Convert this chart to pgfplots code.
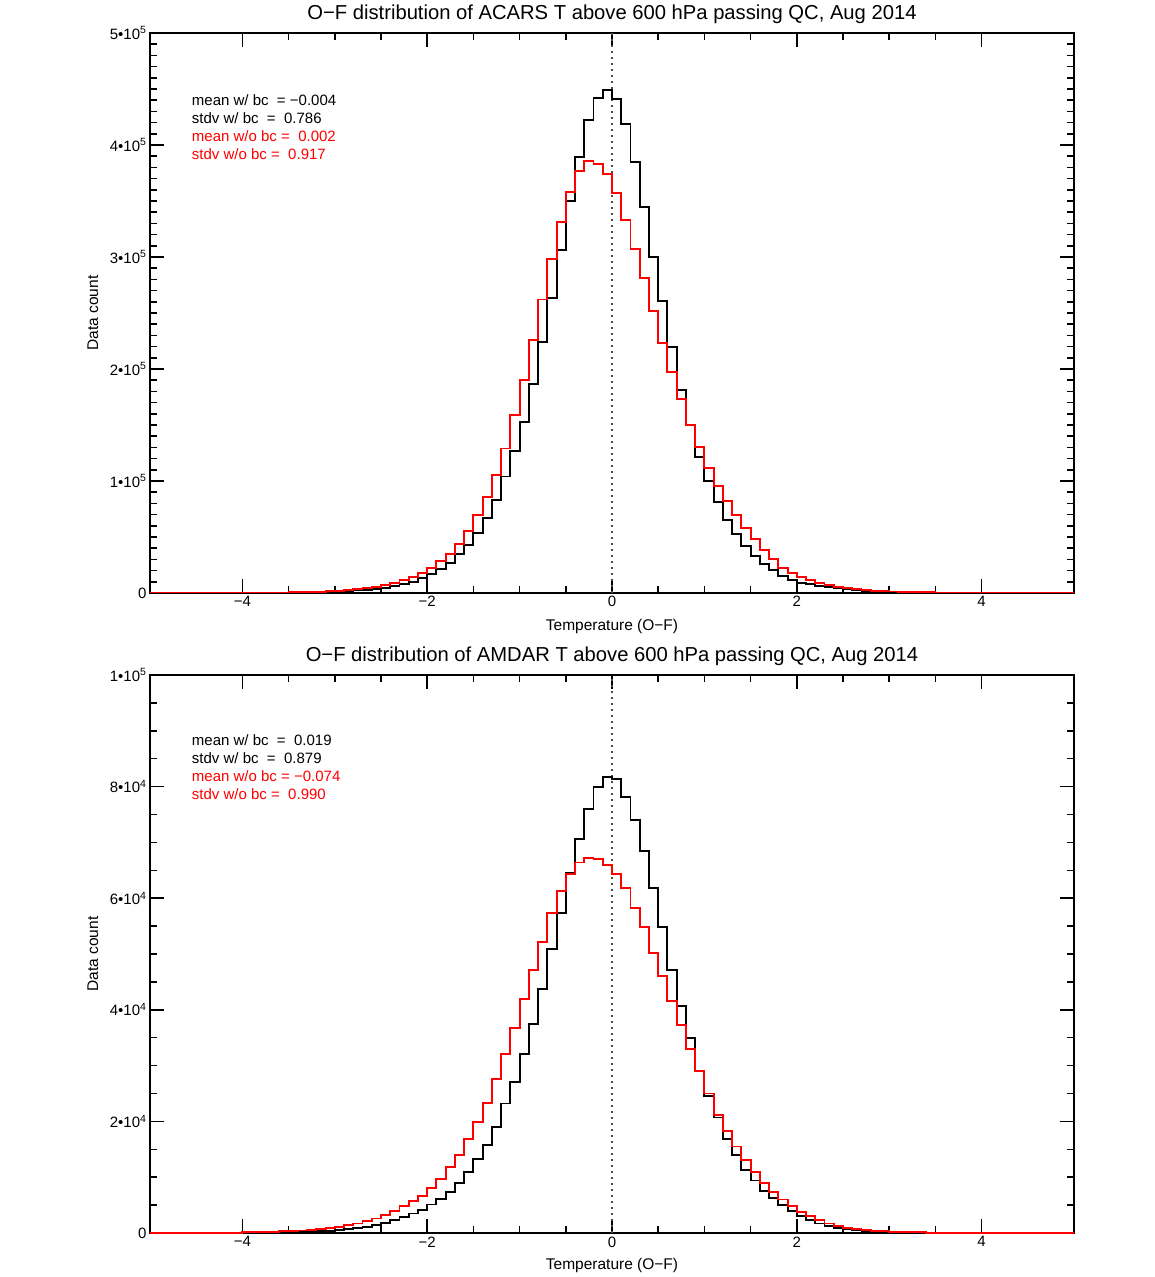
\documentclass[border=0pt]{standalone}
\usepackage{fontspec}
\setmainfont{Liberation Sans}
\usepackage{pgfplots}
\pgfplotsset{compat=1.18}
\usepackage{pgfplotstable}

\pgfplotstableread{
x y
-5.0 0
-3.7 200
-3.6 300
-3.5 400
-3.4 500
-3.3 600
-3.2 800
-3.1 1000
-3.0 1300
-2.9 1700
-2.8 2200
-2.7 2900
-2.6 3700
-2.5 4700
-2.4 6000
-2.3 7800
-2.2 10000
-2.1 13100
-2.0 16700
-1.9 21200
-1.8 27100
-1.7 34600
-1.6 43000
-1.5 53500
-1.4 67000
-1.3 83000
-1.2 104000
-1.1 127000
-1.0 153000
-0.9 186700
-0.8 224000
-0.7 263000
-0.6 306000
-0.5 350000
-0.4 389000
-0.3 422000
-0.2 442000
-0.1 449000
0.0 441000
0.1 419000
0.2 385000
0.3 345000
0.4 300000
0.5 261000
0.6 220000
0.7 181000
0.8 150000
0.9 121600
1.0 99600
1.1 81400
1.2 65300
1.3 52500
1.4 42000
1.5 33100
1.6 26200
1.7 20300
1.8 15200
1.9 11900
2.0 9200
2.1 7800
2.2 6300
2.3 5000
2.4 4000
2.5 3200
2.6 2500
2.7 2000
2.8 1500
2.9 1200
3.0 900
3.1 700
3.2 500
3.3 400
3.4 300
3.5 200
3.6 0
5.0 0
}\topblack

\pgfplotstableread{
x y
-5.0 0
-4.0 200
-3.9 250
-3.8 300
-3.7 350
-3.6 400
-3.5 500
-3.4 700
-3.3 900
-3.2 1200
-3.1 1600
-3.0 2000
-2.9 2600
-2.8 3300
-2.7 4200
-2.6 5300
-2.5 6800
-2.4 8700
-2.3 11300
-2.2 14300
-2.1 18000
-2.0 22600
-1.9 28600
-1.8 35000
-1.7 44000
-1.6 55000
-1.5 70000
-1.4 86000
-1.3 105500
-1.2 129000
-1.1 159000
-1.0 190000
-0.9 226000
-0.8 262000
-0.7 298000
-0.6 331000
-0.5 358000
-0.4 377000
-0.3 386000
-0.2 383000
-0.1 374000
0.0 357000
0.1 333000
0.2 307000
0.3 281000
0.4 252000
0.5 223000
0.6 197000
0.7 173000
0.8 150000
0.9 130000
1.0 112000
1.1 95700
1.2 82300
1.3 70000
1.4 58400
1.5 48000
1.6 38200
1.7 30000
1.8 22600
1.9 18200
2.0 14300
2.1 11300
2.2 8700
2.3 6900
2.4 5400
2.5 4300
2.6 3400
2.7 2700
2.8 2100
2.9 1700
3.0 1300
3.1 1000
3.2 800
3.3 600
3.4 500
3.5 400
3.6 350
3.7 300
3.8 250
3.9 200
4.0 150
4.5 100
5.0 100
}\topred

\pgfplotstableread{
x y
-5.0 0
-4.5 20
-4.2 30
-4.0 40
-3.9 50
-3.8 60
-3.7 80
-3.6 110
-3.5 140
-3.4 180
-3.3 240
-3.2 310
-3.1 400
-3.0 500
-2.9 660
-2.8 840
-2.7 1100
-2.6 1400
-2.5 1800
-2.4 2300
-2.3 2900
-2.2 3500
-2.1 4200
-2.0 5100
-1.9 6100
-1.8 7300
-1.7 9000
-1.6 11000
-1.5 13300
-1.4 15800
-1.3 19000
-1.2 23200
-1.1 27000
-1.0 32100
-0.9 37400
-0.8 43700
-0.7 50900
-0.6 57300
-0.5 64500
-0.4 70600
-0.3 76000
-0.2 80000
-0.1 81800
0.0 81400
0.1 78100
0.2 74000
0.3 68400
0.4 61800
0.5 54900
0.6 47200
0.7 40700
0.8 35000
0.9 29100
1.0 24600
1.1 20700
1.2 16900
1.3 14000
1.4 11300
1.5 9400
1.6 7600
1.7 6200
1.8 5000
1.9 4000
2.0 3100
2.1 2300
2.2 1700
2.3 1250
2.4 900
2.5 660
2.6 480
2.7 360
2.8 270
2.9 200
3.0 150
3.1 110
3.2 80
3.3 60
3.4 50
3.5 40
3.7 30
4.0 20
4.5 10
5.0 10
}\botblack

\pgfplotstableread{
x y
-5.0 30
-4.5 30
-4.4 40
-4.3 50
-4.2 60
-4.1 80
-4.0 100
-3.9 130
-3.8 170
-3.7 220
-3.6 280
-3.5 350
-3.4 450
-3.3 550
-3.2 700
-3.1 900
-3.0 1100
-2.9 1400
-2.8 1700
-2.7 2100
-2.6 2600
-2.5 3200
-2.4 3900
-2.3 4800
-2.2 5700
-2.1 6700
-2.0 8100
-1.9 9700
-1.8 11800
-1.7 14000
-1.6 16900
-1.5 19900
-1.4 23300
-1.3 27600
-1.2 32100
-1.1 36800
-1.0 42000
-0.9 47200
-0.8 52100
-0.7 57300
-0.6 61300
-0.5 64300
-0.4 66400
-0.3 67200
-0.2 67100
-0.1 66000
0.0 64300
0.1 61800
0.2 58200
0.3 54900
0.4 50200
0.5 46000
0.6 41500
0.7 37300
0.8 32900
0.9 29100
1.0 25000
1.1 21200
1.2 18300
1.3 15500
1.4 13100
1.5 10900
1.6 9000
1.7 7400
1.8 6000
1.9 4900
2.0 3800
2.1 3000
2.2 2300
2.3 1700
2.4 1300
2.5 960
2.6 720
2.7 540
2.8 410
2.9 310
3.0 240
3.1 180
3.2 140
3.3 110
3.4 80
3.5 60
3.6 50
3.7 40
4.0 30
4.5 20
5.0 20
}\botred

\pgfplotsset{
  idlaxis/.style={
    scale only axis, width=924pt,
    xmin=-5, xmax=5, ymin=0,
    axis line style={line width=1.7pt},
    every tick/.style={line width=1.5pt, black},
    tick align=inside,
    major tick length=14pt, minor tick length=7pt,
    xtick={-4,-2,0,2,4},
    xticklabels={−4,−2,0,2,4},
    minor x tick num=3,
    scaled y ticks=false,
    tick label style={font=\fontsize{15}{17}\selectfont},
    title style={font=\fontsize{20.2}{24}\selectfont, at={(axis description cs:0.5,1)}, anchor=base, yshift=7pt},
    xlabel={Temperature (O−F)}, ylabel={Data count},
    every axis x label/.style={at={(axis description cs:0.5,-0.059)}, anchor=center, font=\fontsize{15.5}{18}\selectfont},
    every axis y label/.style={at={(axis description cs:-0.0617,0.5)}, anchor=center, rotate=90, font=\fontsize{15.5}{18}\selectfont},
  },
  blackline/.style={const plot, black, line width=1.9pt},
  redline/.style={const plot, red, line width=1.9pt},
  zeroline/.style={black!70, line width=1.7pt, dash pattern=on 1.7pt off 4.3pt},
}
\tikzset{stat/.style={anchor=base west, font=\fontsize{15}{18}\selectfont, inner sep=0pt}}

\begin{document}
\begin{tikzpicture}
\path[use as bounding box] (0pt,0pt) rectangle (1154pt,1277pt);

\begin{axis}[idlaxis, at={(150pt,684pt)}, anchor=south west, height=560pt,
  ymax=500000,
  ytick={0,100000,200000,300000,400000,500000},
  yticklabels={0,1•10\textsuperscript{5},2•10\textsuperscript{5},3•10\textsuperscript{5},4•10\textsuperscript{5},5•10\textsuperscript{5}},
  minor y tick num=9,
  title={O−F distribution of ACARS T above 600 hPa passing QC, Aug 2014}]
\addplot[zeroline] coordinates {(0,0) (0,500000)};
\addplot[blackline] table[x=x,y=y] {\topblack};
\addplot[redline] table[x=x,y=y] {\topred};
\node[stat] at (rel axis cs:0.0452,0.8714) {mean w/ bc~~=~−0.004};
\node[stat, yshift=-18pt] at (rel axis cs:0.0452,0.8714) {stdv w/ bc~~=~~0.786};
\node[stat, red, yshift=-36pt] at (rel axis cs:0.0452,0.8714) {mean w/o bc =~~0.002};
\node[stat, red, yshift=-54pt] at (rel axis cs:0.0452,0.8714) {stdv w/o bc =~~0.917};
\end{axis}

\begin{axis}[idlaxis, at={(150pt,44pt)}, anchor=south west, height=558pt,
  ymax=100000,
  ytick={0,20000,40000,60000,80000,100000},
  yticklabels={0,2•10\textsuperscript{4},4•10\textsuperscript{4},6•10\textsuperscript{4},8•10\textsuperscript{4},1•10\textsuperscript{5}},
  minor y tick num=3,
  title={O−F distribution of AMDAR T above 600 hPa passing QC, Aug 2014}]
\addplot[zeroline] coordinates {(0,0) (0,100000)};
\addplot[blackline] table[x=x,y=y] {\botblack};
\addplot[redline] table[x=x,y=y] {\botred};
\node[stat] at (rel axis cs:0.0452,0.8728) {mean w/ bc~~=~~0.019};
\node[stat, yshift=-18pt] at (rel axis cs:0.0452,0.8728) {stdv w/ bc~~=~~0.879};
\node[stat, red, yshift=-36pt] at (rel axis cs:0.0452,0.8728) {mean w/o bc = −0.074};
\node[stat, red, yshift=-54pt] at (rel axis cs:0.0452,0.8728) {stdv w/o bc =~~0.990};
\end{axis}
\end{tikzpicture}
\end{document}
